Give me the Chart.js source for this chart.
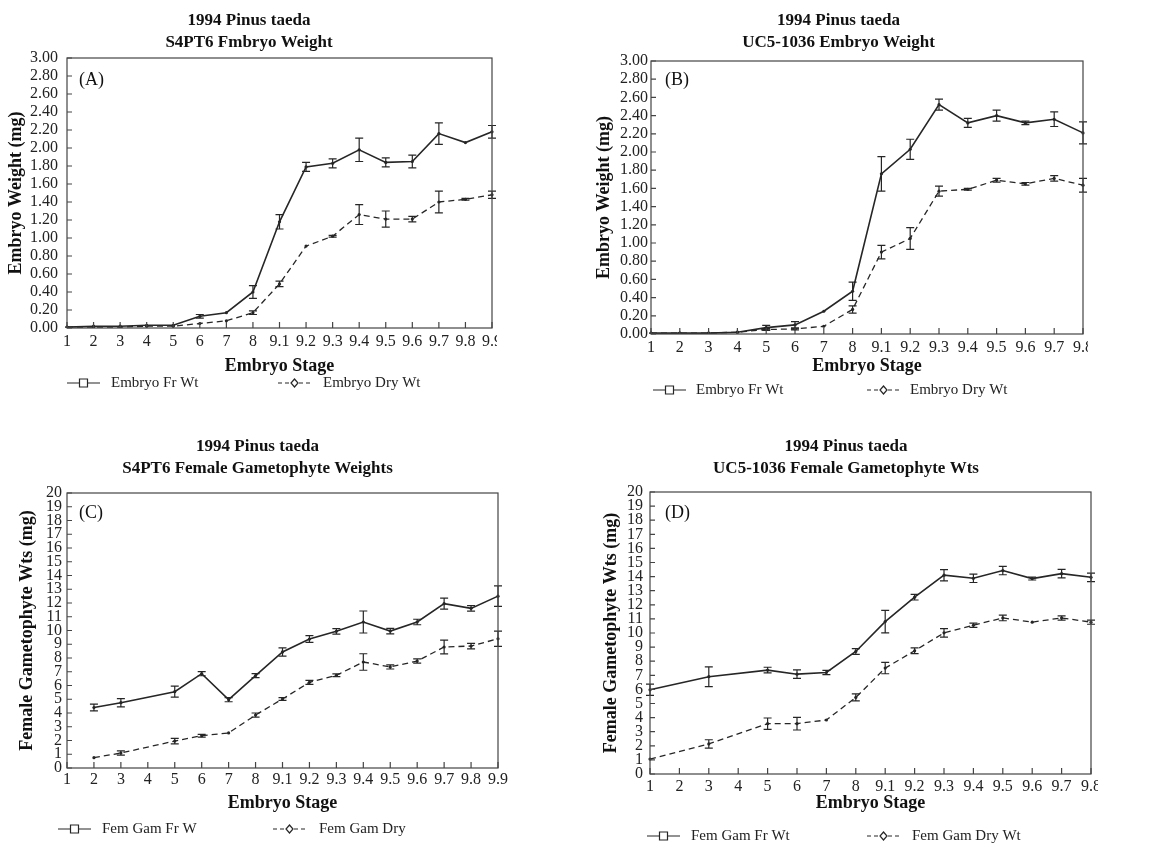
<!DOCTYPE html>
<html>
<head>
<meta charset="utf-8">
<title>1994 Pinus taeda embryo and female gametophyte weights</title>
<script src="https://cdn.jsdelivr.net/npm/chart.js@4/dist/chart.umd.min.js"></script>
<style>
  html, body { margin: 0; padding: 0; background: #fff; }
  body { width: 1163px; height: 844px; position: relative; overflow: hidden; }
  .panel { position: absolute; overflow: hidden; }
  .panel canvas { position: absolute; left: 0; top: 0; }
</style>
</head>
<body>
<div class="panel" id="pA" style="left:0px;top:0px;width:497px;height:400px;"><canvas id="cA" width="559" height="400"></canvas></div>
<div class="panel" id="pB" style="left:580px;top:0px;width:508px;height:400px;"><canvas id="cB" width="574" height="400"></canvas></div>
<div class="panel" id="pC" style="left:0px;top:420px;width:565px;height:424px;"><canvas id="cC" width="565" height="424"></canvas></div>
<div class="panel" id="pD" style="left:580px;top:420px;width:518px;height:424px;"><canvas id="cD" width="581" height="424"></canvas></div>

<script>
// ---- data ----
const stages17 = ['1', '2', '3', '4', '5', '6', '7', '8', '9.1', '9.2', '9.3', '9.4', '9.5', '9.6', '9.7', '9.8', '9.9'];
const stages16 = ['1', '2', '3', '4', '5', '6', '7', '8', '9.1', '9.2', '9.3', '9.4', '9.5', '9.6', '9.7', '9.8'];

// (A) S4PT6 embryo weight (mg)
const frWtA    = [0.01, 0.02, 0.02, 0.03, 0.03, 0.13, 0.17, 0.40, 1.18, 1.79, 1.83, 1.98, 1.84, 1.85, 2.16, 2.06, 2.18];
const frErrA   = [0, 0, 0, 0, 0, 0.02, 0, 0.07, 0.08, 0.05, 0.05, 0.13, 0.05, 0.07, 0.12, 0, 0.07];
const dryWtA   = [0.01, 0.01, 0.01, 0.02, 0.02, 0.05, 0.08, 0.17, 0.49, 0.91, 1.02, 1.26, 1.21, 1.21, 1.40, 1.43, 1.48];
const dryErrA  = [0, 0, 0, 0, 0, 0, 0, 0.02, 0.03, 0, 0.01, 0.11, 0.09, 0.03, 0.12, 0.01, 0.04];

// (B) UC5-1036 embryo weight (mg)
const frWtB    = [0.01, 0.01, 0.01, 0.02, 0.07, 0.10, 0.25, 0.47, 1.76, 2.03, 2.52, 2.32, 2.40, 2.32, 2.36, 2.21];
const frErrB   = [0, 0, 0, 0, 0.025, 0.035, 0, 0.10, 0.19, 0.11, 0.06, 0.05, 0.06, 0.02, 0.08, 0.12];
const dryWtB   = [0.01, 0.01, 0.01, 0.02, 0.05, 0.055, 0.085, 0.27, 0.90, 1.05, 1.57, 1.59, 1.69, 1.65, 1.71, 1.635];
const dryErrB  = [0, 0, 0, 0, 0.01, 0.01, 0, 0.04, 0.075, 0.12, 0.055, 0.01, 0.02, 0.015, 0.03, 0.075];

// (C) S4PT6 female gametophyte weights (mg)
const frWtC    = [null, 4.4, 4.75, null, 5.55, 6.86, 4.97, 6.72, 8.44, 9.38, 9.94, 10.62, 9.96, 10.62, 11.95, 11.61, 12.5];
const frErrC   = [0, 0.25, 0.3, 0, 0.4, 0.15, 0.15, 0.15, 0.3, 0.25, 0.2, 0.8, 0.2, 0.2, 0.4, 0.2, 0.75];
const dryWtC   = [null, 0.75, 1.09, null, 1.96, 2.35, 2.55, 3.85, 5.02, 6.23, 6.74, 7.71, 7.35, 7.78, 8.8, 8.87, 9.4];
const dryErrC  = [0, 0, 0.15, 0, 0.2, 0.1, 0, 0.15, 0.1, 0.15, 0.1, 0.6, 0.15, 0.15, 0.5, 0.2, 0.55];

// (D) UC5-1036 female gametophyte weights (mg)
const frWtD    = [5.97, null, 6.9, null, 7.37, 7.08, 7.2, 8.69, 10.81, 12.54, 14.1, 13.88, 14.43, 13.86, 14.21, 13.95];
const frErrD   = [0.4, 0, 0.7, 0, 0.2, 0.3, 0.15, 0.2, 0.8, 0.2, 0.4, 0.3, 0.3, 0.1, 0.3, 0.3];
const dryWtD   = [1.06, null, 2.13, null, 3.57, 3.57, 3.83, 5.43, 7.51, 8.74, 10.01, 10.55, 11.07, 10.77, 11.07, 10.77];
const dryErrD  = [0, 0, 0.3, 0, 0.4, 0.45, 0, 0.25, 0.4, 0.2, 0.3, 0.15, 0.2, 0, 0.15, 0.15];

// ---- drawing ----
const FONT = "'Liberation Serif', 'Times New Roman', serif";
const INK = '#262626';
Chart.defaults.font.family = FONT;
Chart.defaults.color = '#111';

// frame, inward ticks, error bars, panel letter and legend
const panelDecor = {
    id: 'panelDecor',
    afterDatasetsDraw(chart, args, opts) {
        const ctx = chart.ctx;
        const { left, right, top, bottom } = chart.chartArea;
        const xs = chart.scales.x, ys = chart.scales.y;
        ctx.save();

        // error bars
        ctx.strokeStyle = INK;
        ctx.lineWidth = 1.2;
        chart.data.datasets.forEach(ds => {
            (ds.errors || []).forEach((e, i) => {
                const v = ds.data[i];
                if (v === null || !e) return;
                const x = xs.getPixelForValue(i);
                const y1 = ys.getPixelForValue(v + e), y2 = ys.getPixelForValue(v - e);
                ctx.beginPath();
                ctx.moveTo(x, y1); ctx.lineTo(x, y2);
                ctx.moveTo(x - 4, y1); ctx.lineTo(x + 4, y1);
                ctx.moveTo(x - 4, y2); ctx.lineTo(x + 4, y2);
                ctx.stroke();
            });
        });

        // frame + ticks
        ctx.strokeStyle = '#444';
        ctx.lineWidth = 1.2;
        ctx.strokeRect(left, top, right - left, bottom - top);
        ctx.beginPath();
        xs.ticks.forEach((t, i) => {
            const x = xs.getPixelForTick(i);
            ctx.moveTo(x, bottom); ctx.lineTo(x, bottom - 6);
        });
        ys.ticks.forEach((t, i) => {
            const y = ys.getPixelForTick(i);
            ctx.moveTo(left, y); ctx.lineTo(left + 5, y);
        });
        ctx.stroke();

        // panel letter
        ctx.fillStyle = '#111';
        ctx.font = '18px ' + FONT;
        ctx.textBaseline = 'middle';
        ctx.textAlign = 'left';
        ctx.fillText(opts.letter, left + opts.letterDx, top + opts.letterDy);

        // legend
        const ly = bottom + opts.legendDy;
        ctx.font = '15px ' + FONT;
        opts.items.forEach(it => {
            const x0 = left + it.dx;
            ctx.strokeStyle = INK;
            ctx.lineWidth = 1.2;
            ctx.setLineDash(it.dashed ? [4, 3] : []);
            ctx.beginPath();
            ctx.moveTo(x0, ly); ctx.lineTo(x0 + 33, ly);
            ctx.stroke();
            ctx.setLineDash([]);
            const cx = x0 + 16.5;
            ctx.fillStyle = '#fff';
            ctx.beginPath();
            if (it.marker === 'square') {
                ctx.rect(cx - 4, ly - 4, 8, 8);
            } else {
                ctx.moveTo(cx, ly - 4); ctx.lineTo(cx + 3.5, ly);
                ctx.lineTo(cx, ly + 4); ctx.lineTo(cx - 3.5, ly); ctx.closePath();
            }
            ctx.fill();
            ctx.stroke();
            ctx.fillStyle = '#222';
            ctx.fillText(it.label, left + it.textDx, ly);
        });
        ctx.restore();
    }
};

function makePanel(id, cfg) {
    const lineDs = (label, data, errors, dashed) => ({
        label, data, errors,
        borderColor: INK,
        backgroundColor: INK,
        borderWidth: dashed ? 1.3 : 1.6,
        borderDash: dashed ? [6, 4] : [],
        pointRadius: 1.6,
        pointBorderWidth: 0,
        pointBackgroundColor: INK,
        spanGaps: true,
        tension: 0
    });

    new Chart(document.getElementById(id), {
        type: 'line',
        data: {
            labels: cfg.labels,
            datasets: [
                lineDs(cfg.names[0], cfg.fr, cfg.frErr, false),
                lineDs(cfg.names[1], cfg.dry, cfg.dryErr, true)
            ]
        },
        options: {
            responsive: false,
            animation: false,
            events: [],
            layout: { padding: cfg.padding },
            plugins: {
                legend: { display: false },
                tooltip: { enabled: false },
                title: {
                    display: true,
                    text: cfg.title,
                    color: '#111',
                    font: { size: 17, weight: 'bold', lineHeight: '22px' },
                    padding: { top: 0, bottom: cfg.titleGap }
                },
                panelDecor: cfg.decor
            },
            scales: {
                x: {
                    type: 'category',
                    offset: false,
                    grid: { display: false, drawTicks: false },
                    border: { display: false },
                    ticks: { color: '#222', font: { size: 16 }, padding: cfg.xTickPad, maxRotation: 0, autoSkip: false },
                    title: { display: true, text: 'Embryo Stage', color: '#111', font: { size: 18, weight: 'bold' }, padding: 0 },
                    afterFit: s => { s.height = cfg.xHeight; s.paddingRight = 0; s.paddingLeft = 0; }
                },
                y: {
                    min: cfg.yMin, max: cfg.yMax,
                    grid: { display: false, drawTicks: false },
                    border: { display: false },
                    ticks: {
                        stepSize: cfg.yStep, autoSkip: false, color: '#222', font: { size: cfg.yTickSize }, padding: cfg.yTickPad,
                        callback: v => v.toFixed(cfg.yDecimals)
                    },
                    title: { display: true, text: cfg.yTitle, color: '#111', font: { size: 18, weight: 'bold' }, padding: 0 },
                    afterFit: s => { s.width = cfg.yWidth; }
                }
            }
        },
        plugins: [panelDecor]
    });
}

const embryoNames = ['Embryo Fr Wt', 'Embryo Dry Wt'];

makePanel('cA', {
    labels: stages17, fr: frWtA, frErr: frErrA, dry: dryWtA, dryErr: dryErrA, names: embryoNames,
    title: ['1994 Pinus taeda', 'S4PT6 Fmbryo Weight'],
    yTitle: 'Embryo Weight (mg)', yMin: 0, yMax: 3, yStep: 0.2, yDecimals: 2, yTickSize: 16,
    padding: { top: 10, left: 6, right: 67, bottom: 23 }, titleGap: 4,
    yWidth: 61, yTickPad: 9, xHeight: 49, xTickPad: 4,
    decor: {
        letter: '(A)', letterDx: 12, letterDy: 22, legendDy: 55,
        items: [
            { dx: 0, textDx: 44, label: 'Embryo Fr Wt', marker: 'square' },
            { dx: 211, textDx: 256, label: 'Embryo Dry Wt', marker: 'diamond', dashed: true }
        ]
    }
});

makePanel('cB', {
    labels: stages16, fr: frWtB, frErr: frErrB, dry: dryWtB, dryErr: dryErrB, names: embryoNames,
    title: ['1994 Pinus taeda', 'UC5-1036 Embryo Weight'],
    yTitle: 'Embryo Weight (mg)', yMin: 0, yMax: 3, yStep: 0.2, yDecimals: 2, yTickSize: 16,
    padding: { top: 10, left: 14, right: 71, bottom: 23 }, titleGap: 7,
    yWidth: 57, yTickPad: 3, xHeight: 43, xTickPad: 4,
    decor: {
        letter: '(B)', letterDx: 14, letterDy: 19, legendDy: 56,
        items: [
            { dx: 2, textDx: 45, label: 'Embryo Fr Wt', marker: 'square' },
            { dx: 216, textDx: 259, label: 'Embryo Dry Wt', marker: 'diamond', dashed: true }
        ]
    }
});

makePanel('cC', {
    labels: stages17, fr: frWtC, frErr: frErrC, dry: dryWtC, dryErr: dryErrC,
    names: ['Fem Gam Fr W', 'Fem Gam Dry'],
    title: ['1994 Pinus taeda', 'S4PT6 Female Gametophyte Weights'],
    yTitle: 'Female Gametophyte Wts (mg)', yMin: 0, yMax: 20, yStep: 1, yDecimals: 0, yTickSize: 16,
    padding: { top: 16, left: 17, right: 67, bottom: 30 }, titleGap: 13,
    yWidth: 50, yTickPad: 5, xHeight: 46, xTickPad: 2,
    decor: {
        letter: '(C)', letterDx: 12, letterDy: 20, legendDy: 61,
        items: [
            { dx: -9, textDx: 35, label: 'Fem Gam Fr W', marker: 'square' },
            { dx: 206, textDx: 252, label: 'Fem Gam Dry', marker: 'diamond', dashed: true }
        ]
    }
});

makePanel('cD', {
    labels: stages16, fr: frWtD, frErr: frErrD, dry: dryWtD, dryErr: dryErrD,
    names: ['Fem Gam Fr Wt', 'Fem Gam Dry Wt'],
    title: ['1994 Pinus taeda', 'UC5-1036 Female Gametophyte Wts'],
    yTitle: 'Female Gametophyte Wts (mg)', yMin: 0, yMax: 20, yStep: 1, yDecimals: 0, yTickSize: 16,
    padding: { top: 16, left: 21, right: 70, bottom: 30 }, titleGap: 12,
    yWidth: 49, yTickPad: 7, xHeight: 40, xTickPad: 3,
    decor: {
        letter: '(D)', letterDx: 15, letterDy: 21, legendDy: 62,
        items: [
            { dx: -3, textDx: 41, label: 'Fem Gam Fr Wt', marker: 'square' },
            { dx: 217, textDx: 262, label: 'Fem Gam Dry Wt', marker: 'diamond', dashed: true }
        ]
    }
});
</script>
</body>
</html>
